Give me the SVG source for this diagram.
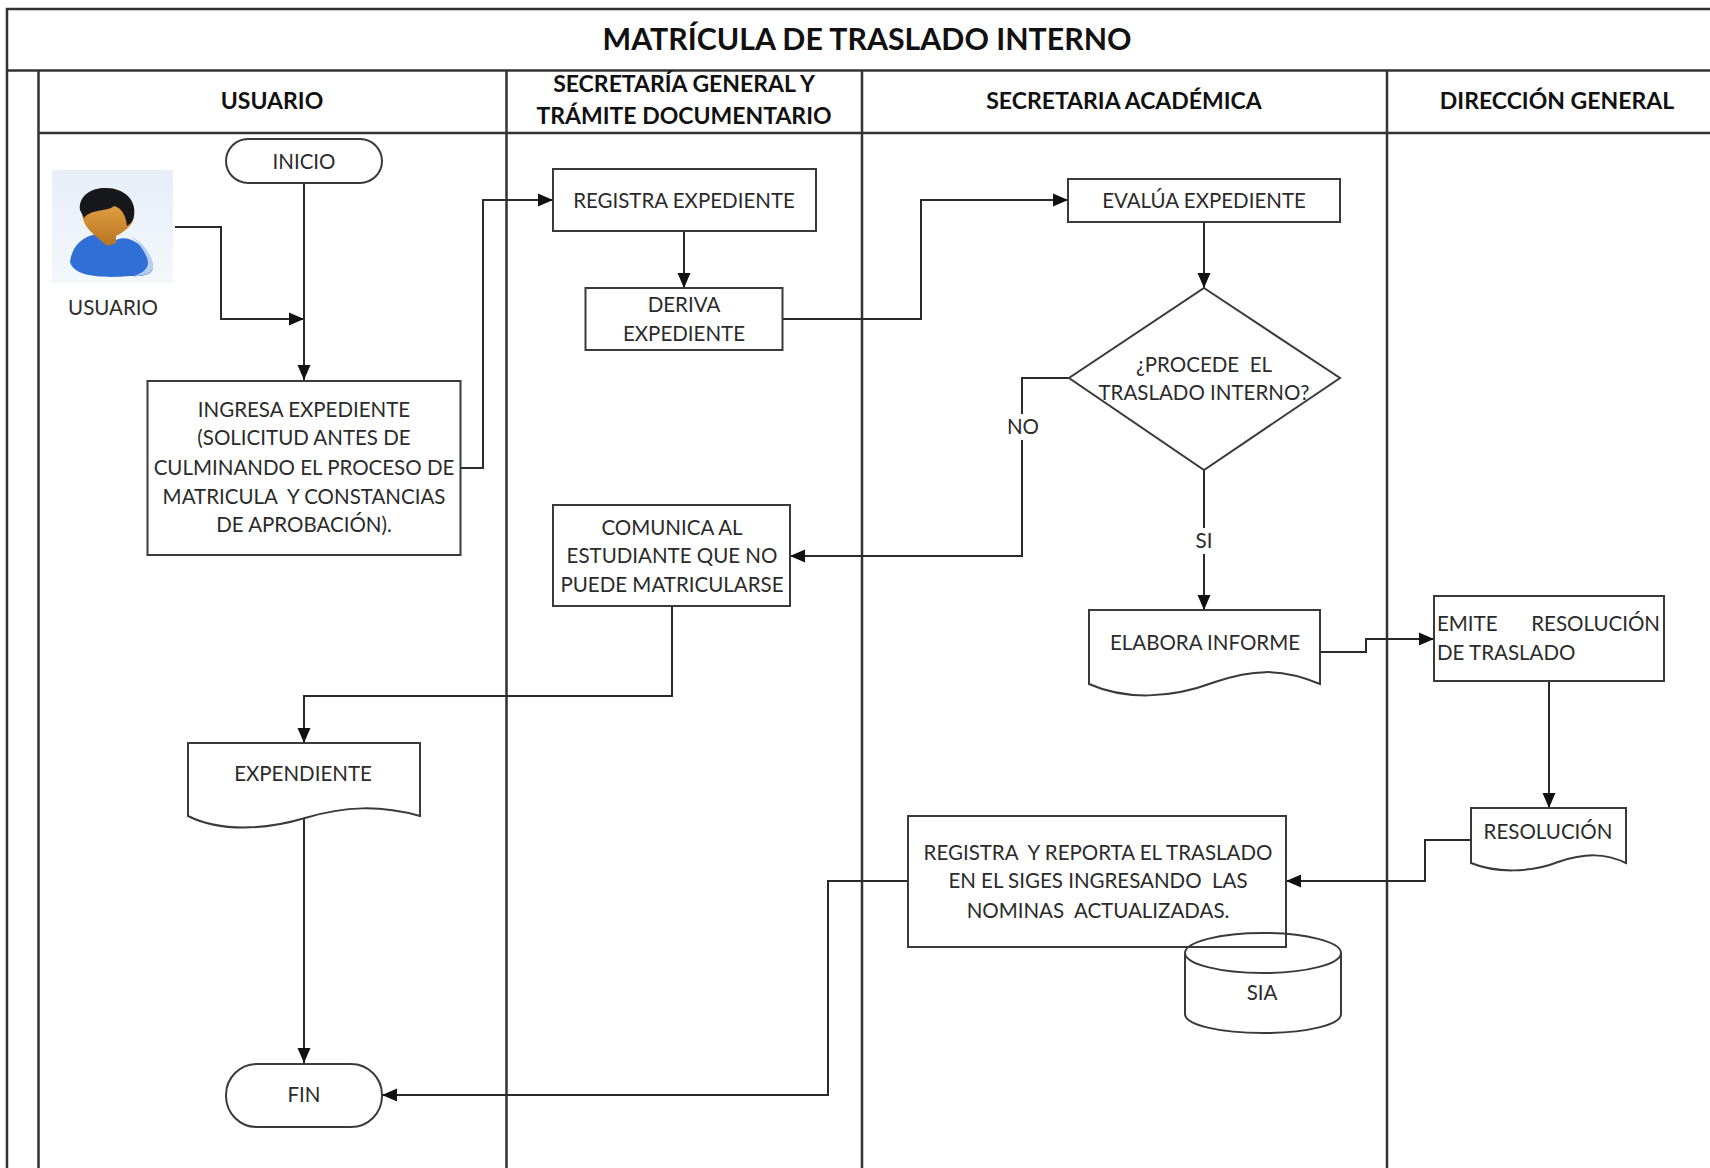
<svg xmlns="http://www.w3.org/2000/svg" width="1710" height="1168" viewBox="0 0 1710 1168">
<style>
text{font-family:Lato,"Liberation Sans",sans-serif;font-size:20.5px;fill:#2b2b2b;text-anchor:middle;white-space:pre}
.h{font-weight:700;font-size:23px;fill:#111}
.t{font-weight:700;font-size:30.3px;fill:#111}
.s{fill:#fff;stroke:#3a3a3a;stroke-width:2}
.n{fill:none;stroke:#3a3a3a;stroke-width:2}
.f{fill:none;stroke:#333;stroke-width:2.5}
.c{fill:none;stroke:#2a2a2a;stroke-width:2;marker-end:url(#a)}
</style>
<defs>
<marker id="a" markerUnits="userSpaceOnUse" markerWidth="16" markerHeight="16" refX="15" refY="8" orient="auto"><path d="M0 1.500 L15 8 L0 14.500Z" fill="#111"/></marker>
<linearGradient id="bg" x1="0" y1="0" x2="0" y2="1"><stop offset="0" stop-color="#e6eef8"/><stop offset="1" stop-color="#f4f8fc"/></linearGradient>
<linearGradient id="sk" x1="0" y1="0" x2="0" y2="1"><stop offset="0" stop-color="#f0b050"/><stop offset="1" stop-color="#b87420"/></linearGradient>
</defs>
<rect width="1710" height="1168" fill="#fff"/>
<g id="frame">
<path class="f" d="M1710 9H7V1168M7 70.500H1710M38.500 70.500V1168M506.500 70.500V1168M862 70.500V1168M1387 70.500V1168M38.500 133H1710"/>
<text class="t" x="867" y="50">MATRÍCULA DE TRASLADO INTERNO</text>
<text class="h" x="272" y="109">USUARIO</text>
<text class="h" x="684" y="92">SECRETARÍA GENERAL Y</text>
<text class="h" x="684" y="124">TRÁMITE DOCUMENTARIO</text>
<text class="h" x="1124" y="109">SECRETARIA ACADÉMICA</text>
<text class="h" x="1557" y="109">DIRECCIÓN GENERAL</text>
</g>
<g id="connectors">
<path class="c" d="M175 227H221V319H304"/>
<path class="c" d="M304 183V380"/>
<path class="c" d="M460 468H483V200H553"/>
<path class="c" d="M684 231V288"/>
<path class="c" d="M783 319H921V200H1068"/>
<path class="c" d="M1204 222V288"/>
<path class="c" d="M1069 378H1022V556H790"/>
<path class="c" d="M1204 470V610"/>
<path class="c" d="M672 606V696H304V743"/>
<path class="c" d="M304 815V1063"/>
<path class="c" d="M1320 652H1366V639H1434"/>
<path class="c" d="M1549 681V808"/>
<path class="c" d="M1472 840H1425V881H1286"/>
<path class="c" d="M908 881H828V1095H382"/>
</g>
<g id="user-icon">
<rect x="52" y="170" width="121" height="113" fill="url(#bg)"/>
<path d="M70 262C72 244 86 234 100 234L116 240C128 234 144 244 152 262C156 272 148 277 130 276C108 278 74 278 70 262Z" fill="#2f6fd6"/>
<path d="M130 236C144 242 154 258 153 268C151 274 142 276 134 276C146 272 150 266 147 258C143 248 136 240 130 236Z" fill="#b5d0f0"/>
<path d="M82 212C82 196 94 188 107 188C122 188 136 200 134 216C133 226 124 232 116 236V243L107 246L98 238C90 232 82 224 82 212Z" fill="url(#sk)"/>
<path d="M80 210C78 196 92 187 106 188C124 188 137 200 134 216C133 222 130 224 127 226C126 216 122 208 114 206C108 212 92 208 84 218Z" fill="#16181c"/>
<text x="113" y="315">USUARIO</text>
</g>
<g id="inicio"><rect class="s" x="226" y="139" width="156" height="44" rx="22"/><text x="304" y="169">INICIO</text></g>
<g id="ingresa"><rect class="s" x="147.500" y="381" width="313" height="174"/>
<text x="304" y="417">INGRESA EXPEDIENTE</text><text x="304" y="445">(SOLICITUD ANTES DE</text><text x="304" y="475">CULMINANDO EL PROCESO DE</text><text x="304" y="504">MATRICULA  Y CONSTANCIAS</text><text x="304" y="532">DE APROBACIÓN).</text></g>
<g id="registra"><rect class="s" x="553" y="169" width="263" height="62"/><text x="684" y="208">REGISTRA EXPEDIENTE</text></g>
<g id="deriva"><rect class="s" x="585.500" y="288" width="197" height="62"/><text x="684" y="312">DERIVA</text><text x="684" y="341">EXPEDIENTE</text></g>
<g id="evalua"><rect class="s" x="1068" y="179" width="272" height="43"/><text x="1204" y="208">EVALÚA EXPEDIENTE</text></g>
<g id="procede"><path class="s" d="M1204 288L1340 378L1204 470L1069 378Z"/><text x="1204" y="372">¿PROCEDE  EL</text><text x="1204" y="400">TRASLADO INTERNO?</text></g>
<g id="label-no"><rect x="1006" y="414" width="34" height="26" fill="#fff"/><text x="1023" y="434">NO</text></g>
<g id="label-si"><rect x="1190" y="528" width="28" height="26" fill="#fff"/><text x="1204" y="548">SI</text></g>
<g id="comunica"><rect class="s" x="553" y="505" width="237" height="101"/><text x="672" y="535">COMUNICA AL</text><text x="672" y="563">ESTUDIANTE QUE NO</text><text x="672" y="592">PUEDE MATRICULARSE</text></g>
<g id="elabora"><path class="s" d="M1089 610H1320V684C1280 667 1250 670 1215 682C1170 699 1125 700 1089 684Z"/><text x="1205" y="650">ELABORA INFORME</text></g>
<g id="emite"><rect class="s" x="1434" y="596" width="230" height="85"/><text x="1437" y="631" style="text-anchor:start">EMITE</text><text x="1660" y="631" style="text-anchor:end">RESOLUCIÓN</text><text x="1437" y="660" style="text-anchor:start">DE TRASLADO</text></g>
<g id="expendiente"><path class="s" d="M188 743H420V816C380 805 345 806 305 818C265 830 220 832 188 816Z"/><text x="303" y="781">EXPENDIENTE</text></g>
<g id="resolucion"><path class="s" d="M1471 808H1626V863C1605 853 1585 853 1558 862C1530 873 1495 873 1471 863Z"/><text x="1548" y="839">RESOLUCIÓN</text></g>
<g id="registra-reporta"><rect class="s" x="908" y="816" width="378" height="131"/><text x="1098" y="860">REGISTRA  Y REPORTA EL TRASLADO</text><text x="1098" y="888">EN EL SIGES INGRESANDO  LAS</text><text x="1098" y="918">NOMINAS  ACTUALIZADAS.</text></g>
<g id="sia"><path d="M1185 953V1014C1185 1025 1220 1033 1263 1033C1306 1033 1341 1025 1341 1014V953C1341 964 1306 973 1263 973C1220 973 1185 964 1185 953Z" fill="#fff"/><path class="n" d="M1185 953V1014C1185 1025 1220 1033 1263 1033C1306 1033 1341 1025 1341 1014V953"/><ellipse class="n" cx="1263" cy="953" rx="78" ry="20"/><text x="1262" y="1000">SIA</text></g>
<g id="fin"><rect class="s" x="226" y="1064" width="156" height="63" rx="31"/><text x="304" y="1102">FIN</text></g>
</svg>
